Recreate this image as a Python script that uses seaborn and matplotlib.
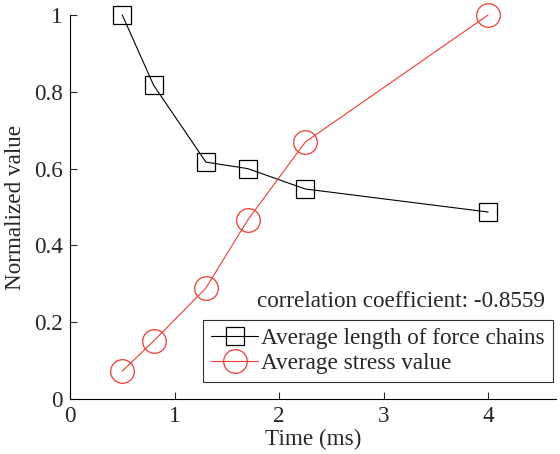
import matplotlib
matplotlib.use("Agg")
import matplotlib.pyplot as plt
import seaborn as sns
import pandas as pd
from matplotlib.ticker import FuncFormatter

time_ms = [0.5, 0.8, 1.3, 1.7, 2.25, 4.0]
chain_length = [1.0, 0.817, 0.617, 0.600, 0.547, 0.487]
stress_value = [0.073, 0.151, 0.289, 0.466, 0.669, 1.0]
series_labels = ["Average length of force chains", "Average stress value"]
corr_text = "correlation coefficient: -0.8559"
x_ticks = [0, 1, 2, 3, 4]
y_ticks = [0, 0.2, 0.4, 0.6, 0.8, 1.0]

sns.set_style("ticks")
plt.rcParams["font.family"] = ["Liberation Serif", "DejaVu Serif"]
FS = 16.7
plt.rcParams["font.size"] = FS

df = pd.DataFrame({"t": time_ms, "chain": chain_length, "stress": stress_value})

fig = plt.figure(figsize=(5.6, 4.54), dpi=100)
ax = fig.add_axes([0.125, 0.121, 0.868, 0.846])

red = "#ee3b33"
sns.lineplot(data=df, x="t", y="chain", ax=ax, color="black", lw=0.8,
             marker="s", markersize=13, markerfacecolor="none",
             markeredgecolor="black", markeredgewidth=0.9, label=series_labels[0],
             clip_on=False)
sns.lineplot(data=df, x="t", y="stress", ax=ax, color=red, lw=0.8,
             marker="o", markersize=17, markerfacecolor="none",
             markeredgecolor=red, markeredgewidth=0.9, label=series_labels[1],
             clip_on=False)

ax.set_xlim(0, 4.65)
ax.set_ylim(0, 1)
ax.set_xticks(x_ticks)
ax.set_yticks(y_ticks)
ax.yaxis.set_major_formatter(FuncFormatter(lambda v, p: "%g" % v))
ax.tick_params(direction="in", length=5, width=0.8, labelsize=FS, pad=5)
for s in ["top", "right"]:
    ax.spines[s].set_visible(False)
for s in ["left", "bottom"]:
    ax.spines[s].set_linewidth(0.8)
    ax.spines[s].set_color("black")
ax.set_xlabel("Time (ms)", fontsize=FS, labelpad=1)
ax.set_ylabel("Normalized value", fontsize=FS, labelpad=6)

leg = ax.legend(loc="lower right", bbox_to_anchor=(0.994, 0.044), frameon=True,
                fancybox=False, edgecolor="black", fontsize=FS, handlelength=2.05,
                handletextpad=0.13, borderpad=0.35, labelspacing=0.15, borderaxespad=0)
leg.get_frame().set_linewidth(0.8)
ax.text(0.977, 0.253, corr_text, transform=ax.transAxes, ha="right", va="center", fontsize=FS)

fig.savefig("out.png", dpi=100)
